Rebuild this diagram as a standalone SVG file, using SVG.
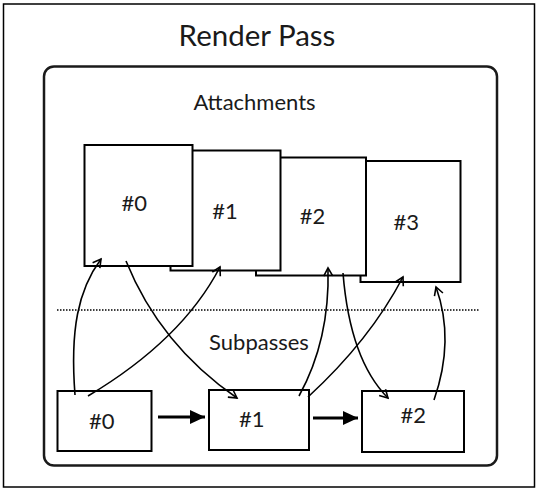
<svg xmlns="http://www.w3.org/2000/svg" width="548" height="496" viewBox="0 0 548 496">
  <style>
    .frame { fill: #ffffff; stroke: #000000; stroke-width: 1.5; }
    .pass { fill: #ffffff; stroke: #1a1a1a; stroke-width: 2.5; }
    .box { fill: #ffffff; stroke: #000000; stroke-width: 2; }
    .lbl { font-family: Lato, "Liberation Sans", sans-serif; fill: #1a1a1a; text-anchor: middle; }
    .num { font-size: 22px; }
    .head { font-size: 22px; }
    .title { font-size: 29.5px; }
    .curve { fill: none; stroke: #000000; stroke-width: 1.6; marker-end: url(#open); }
    .thick { fill: none; stroke: #000000; stroke-width: 3; marker-end: url(#solid); }
    .sep { stroke: #000000; stroke-width: 1.5; stroke-dasharray: 1.5 1.5; }
  </style>
  <defs>
    <marker id="open" viewBox="-10 -6 12 12" refX="0" refY="0" markerWidth="12" markerHeight="12" markerUnits="userSpaceOnUse" orient="auto">
      <path d="M-8,-4.5 L0,0 L-8,4.5" fill="none" stroke="#000000" stroke-width="1.6"/>
    </marker>
    <marker id="solid" viewBox="-16 -8 17 16" refX="0" refY="0" markerWidth="17" markerHeight="16" markerUnits="userSpaceOnUse" orient="auto">
      <path d="M-15,-7 L0,0 L-15,7 Z" fill="#000000"/>
    </marker>
  </defs>

  <rect class="frame" x="3.5" y="4" width="531" height="483"/>
  <text class="lbl title" x="257" y="46">Render Pass</text>

  <g id="renderpass">
    <rect class="pass" x="44" y="66.5" width="453" height="399" rx="10" ry="10"/>
    <text class="lbl head" x="254.5" y="110">Attachments</text>
    <line class="sep" x1="57" y1="310" x2="480" y2="310"/>
    <text class="lbl head" x="259" y="350">Subpasses</text>
  </g>

  <g id="attachment3">
    <rect class="box" x="360.5" y="161" width="100" height="121"/>
    <text class="lbl num" x="406.3" y="230">#3</text>
  </g>
  <g id="attachment2">
    <rect class="box" x="256" y="157.5" width="110" height="118"/>
    <text class="lbl num" x="312.5" y="224">#2</text>
  </g>
  <g id="attachment1">
    <rect class="box" x="170.5" y="150.5" width="110" height="120"/>
    <text class="lbl num" x="225" y="219">#1</text>
  </g>
  <g id="attachment0">
    <rect class="box" x="84.5" y="145" width="108" height="121"/>
    <text class="lbl num" x="134.3" y="211">#0</text>
  </g>

  <g id="subpass0">
    <rect class="box" x="57.5" y="391" width="94" height="60"/>
    <text class="lbl num" x="101.7" y="429">#0</text>
  </g>
  <g id="subpass1">
    <rect class="box" x="209" y="390" width="100" height="60"/>
    <text class="lbl num" x="251.7" y="426.7">#1</text>
  </g>
  <g id="subpass2">
    <rect class="box" x="362" y="391" width="102" height="61"/>
    <text class="lbl num" x="413.3" y="423.3">#2</text>
  </g>

  <g id="connectors">
    <path class="curve" d="M75,395 C70,330 78,290 101,259"/>
    <path class="curve" d="M88,396 Q182,340 220,267"/>
    <path class="curve" d="M126,261 Q160,345 237,398"/>
    <path class="curve" d="M299,396 Q330,340 328,268"/>
    <path class="curve" d="M308,397 Q370,340 403,277"/>
    <path class="curve" d="M343,273 Q350,360 388,398"/>
    <path class="curve" d="M434,400 Q455,340 436,287"/>
    <path class="thick" d="M158,417 L205,417"/>
    <path class="thick" d="M313,418 L358,418"/>
  </g>
</svg>
